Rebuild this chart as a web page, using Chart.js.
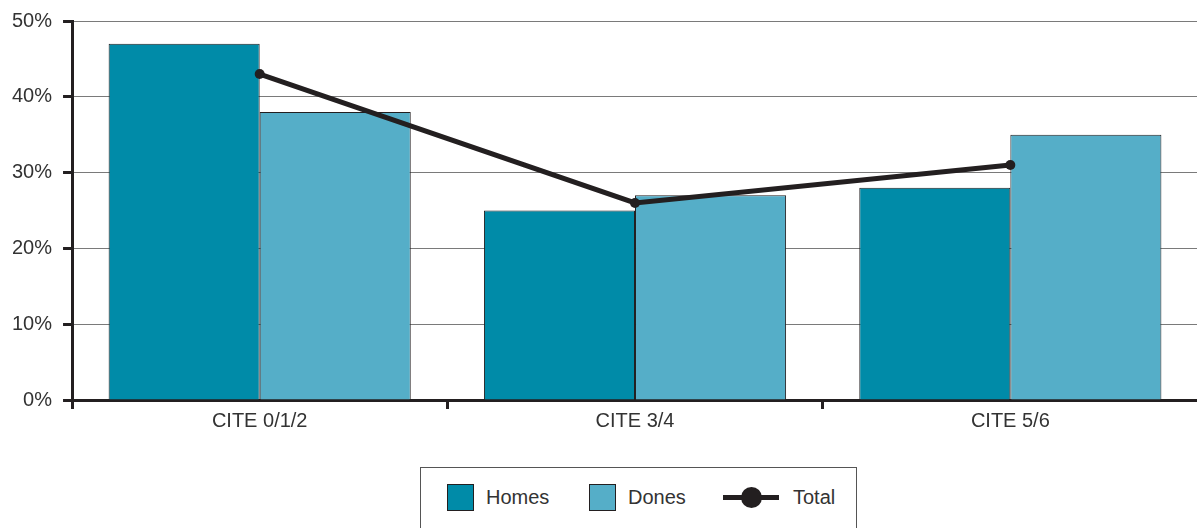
<!DOCTYPE html>
<html>
<head>
<meta charset="utf-8">
<script src="https://cdn.jsdelivr.net/npm/chart.js@4.4.1/dist/chart.umd.min.js"></script>
<style>
  body { margin: 0; background: #fff; font-family: "Liberation Sans", Arial, sans-serif; }
  #wrap { position: relative; width: 1197px; height: 528px; overflow: hidden; }
  #chart { position: absolute; left: 0; top: 0; }
  #legend {
    position: absolute; left: 420px; top: 467px; width: 437px; height: 80px;
    border: 1px solid #555; box-sizing: border-box;
  }
  .item { position: absolute; top: 16px; height: 27px; display: flex; align-items: center;
    font-size: 20px; color: #333; }
  .swatch { width: 25px; height: 25px; border: 1px solid #231f20; margin-right: 12px; }
  .lineSym { position: relative; width: 56px; height: 27px; margin-right: 14px; }
  .lineSym .bar { position: absolute; left: 0; right: 0; top: 11px; height: 5px; background: #231f20; }
  .lineSym .dot { position: absolute; left: 18px; top: 3px; width: 21px; height: 21px; border-radius: 50%; background: #231f20; }
</style>
</head>
<body>
<div id="wrap">
  <canvas id="chart" width="1203" height="433"></canvas>
  <div id="legend"></div>
</div>
<script>
// données
const categories = ['CITE 0/1/2', 'CITE 3/4', 'CITE 5/6'];
const homes = [47, 25, 28];
const dones = [38, 27, 35];
const total = [43, 26, 31];
const yTicks = [0, 10, 20, 30, 40, 50];

const colHomes = '#008ba8';
const colDones = '#55aec8';
const colTotal = '#231f20';
const textCol = '#333333';

const ctx = document.getElementById('chart');

const chart = new Chart(ctx, {
    type: 'bar',
    data: {
        labels: categories,
        datasets: [
            {
                type: 'line',
                label: 'Total',
                data: total,
                borderColor: colTotal,
                backgroundColor: colTotal,
                borderWidth: 5,
                pointRadius: 5,
                pointBackgroundColor: colTotal,
                pointBorderWidth: 0,
                tension: 0,
                order: 0
            },
            {
                label: 'Homes',
                data: homes,
                backgroundColor: colHomes,
                borderColor: colTotal,
                borderWidth: 1,
                barPercentage: 1,
                categoryPercentage: 0.805,
                order: 1
            },
            {
                label: 'Dones',
                data: dones,
                backgroundColor: colDones,
                borderColor: colTotal,
                borderWidth: 1,
                barPercentage: 1,
                categoryPercentage: 0.805,
                order: 1
            }
        ]
    },
    options: {
        responsive: false,
        animation: false,
        layout: { padding: { top: 7, right: 0, left: 1, bottom: 0 } },
        plugins: {
            legend: { display: false },
            tooltip: { enabled: false }
        },
        scales: {
            y: {
                min: 0,
                max: 50,
                afterBuildTicks: (axis) => { axis.ticks = yTicks.map(v => ({ value: v })); },
                border: { color: colTotal, width: 3 },
                grid: {
                    color: '#7a7a7a',
                    lineWidth: 1,
                    tickColor: colTotal,
                    tickWidth: 3,
                    tickLength: 9
                },
                ticks: {
                    color: textCol,
                    padding: 11,
                    font: { family: '"Liberation Sans", Arial, sans-serif', size: 20, lineHeight: 1 },
                    callback: (v) => v + '%'
                }
            },
            x: {
                border: { color: colTotal, width: 3 },
                grid: {
                    drawOnChartArea: false,
                    tickColor: colTotal,
                    tickWidth: 3,
                    tickLength: 9
                },
                ticks: {
                    color: textCol,
                    padding: 0,
                    font: { family: '"Liberation Sans", Arial, sans-serif', size: 20 }
                }
            }
        }
    }
});

// légende HTML
const legendEl = document.getElementById('legend');
const legendPos = { Homes: 26, Dones: 168, Total: 302 };
['Homes', 'Dones', 'Total'].forEach(name => {
    const ds = chart.data.datasets.find(d => d.label === name);
    const item = document.createElement('div');
    item.className = 'item';
    item.style.left = legendPos[name] + 'px';
    if (ds.type === 'line') {
        item.innerHTML = '<div class="lineSym"><div class="bar"></div><div class="dot"></div></div>';
    } else {
        item.innerHTML = '<div class="swatch" style="background:' + ds.backgroundColor + '"></div>';
    }
    item.appendChild(document.createTextNode(name));
    legendEl.appendChild(item);
});
</script>
</body>
</html>
